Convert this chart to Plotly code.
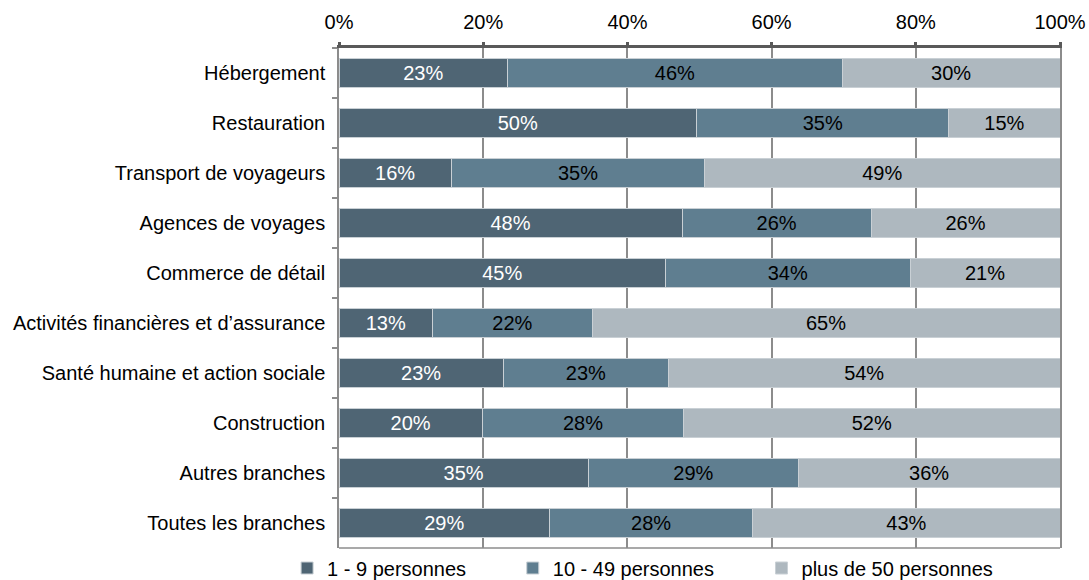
import plotly.graph_objects as go

# Répartition des emplois par taille d'entreprise (en %)
branches = [
    "Hébergement",
    "Restauration",
    "Transport de voyageurs",
    "Agences de voyages",
    "Commerce de détail",
    "Activités financières et d’assurance",
    "Santé humaine et action sociale",
    "Construction",
    "Autres branches",
    "Toutes les branches",
]
petites = [23.4, 49.6, 15.6, 47.6, 45.3, 13.0, 22.8, 19.9, 34.6, 29.2]
moyennes = [46.4, 35.0, 35.1, 26.2, 33.9, 22.1, 22.9, 27.9, 29.1, 28.2]
grandes = [30.2, 15.4, 49.3, 26.2, 20.8, 64.9, 54.3, 52.2, 36.3, 42.6]

series = [
    ("1 - 9 personnes", petites, "#4F6574", "#ffffff", "legend"),
    ("10 - 49 personnes", moyennes, "#5F7E90", "#000000", "legend2"),
    ("plus de 50 personnes", grandes, "#AEB8BF", "#000000", "legend3"),
]

FONT = "Liberation Sans, Arial, sans-serif"

fig = go.Figure()
for name, vals, color, txtcolor, leg in series:
    fig.add_trace(go.Bar(
        name=name,
        y=branches,
        x=vals,
        orientation="h",
        marker=dict(color=color, line=dict(color="#C9D0D5", width=1)),
        texttemplate="%{x:.0f}%",
        textposition="inside",
        insidetextanchor="middle",
        textangle=0,
        constraintext="none",
        textfont=dict(family=FONT, size=20, color=txtcolor),
        legend=leg,
    ))

legend_common = dict(
    orientation="h",
    yanchor="middle",
    y=-0.04,
    xanchor="left",
    itemwidth=30,
    font=dict(family=FONT, size=20, color="#000000"),
    bgcolor="rgba(0,0,0,0)",
    tracegroupgap=0,
)

fig.update_layout(
    width=1089,
    height=580,
    margin=dict(l=339, r=29, t=48, b=32, autoexpand=False),
    barmode="stack",
    bargap=0.42,
    plot_bgcolor="#ffffff",
    paper_bgcolor="#ffffff",
    font=dict(family=FONT, size=20, color="#000000"),
    showlegend=True,
    legend=dict(legend_common, x=-0.072),
    legend2=dict(legend_common, x=0.241),
    legend3=dict(legend_common, x=0.586),
    xaxis=dict(
        side="top",
        range=[0, 100],
        dtick=20,
        ticksuffix="%",
        showgrid=True,
        gridcolor="#8C8C8C",
        gridwidth=1.5,
        showline=True,
        linecolor="#595959",
        linewidth=3,
        ticks="outside",
        ticklen=3,
        tickwidth=3,
        tickcolor="#595959",
        ticklabelstandoff=5,
        zeroline=False,
        tickfont=dict(family=FONT, size=20, color="#000000"),
        fixedrange=True,
    ),
    yaxis=dict(
        autorange="reversed",
        showline=True,
        mirror=True,
        linecolor="#8C8C8C",
        linewidth=1.5,
        ticks="outside",
        tickson="boundaries",
        ticklen=5,
        tickwidth=1.5,
        tickcolor="#8C8C8C",
        showgrid=False,
        ticklabelstandoff=8,
        tickfont=dict(family=FONT, size=20, color="#000000"),
        fixedrange=True,
    ),
    shapes=[
        dict(type="line", xref="paper", yref="paper", x0=0, x1=1, y0=0, y1=0,
             line=dict(color="#8C8C8C", width=1.5)),
    ],
)

fig.write_html("out.html")
